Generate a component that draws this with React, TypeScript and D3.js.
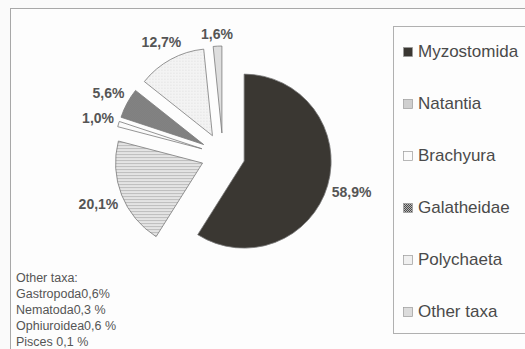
import React from "react";
import * as d3 from "d3";

const categories = ["Myzostomida", "Natantia", "Brachyura", "Galatheidae", "Polychaeta", "Other taxa"];
const values = [58.9, 20.1, 1.0, 5.6, 12.7, 1.6];
const labels = ["58,9%", "20,1%", "1,0%", "5,6%", "12,7%", "1,6%"];
const otherTaxa = ["Other taxa:", "Gastropoda0,6%", "Nematoda0,3 %", "Ophiuroidea0,6 %", "Pisces 0,1 %"];
const fills = ["#3a3732", "url(#pNat)", "#fbfbfb", "url(#pGal)", "url(#pPoly)", "#dedede"];
const swatchFills = ["#3a3732", "#cfcfcf", "#fbfbfb", "url(#pGal)", "#f0f0f0", "#dcdcdc"];

const W = 525, H = 349;
const cx = 223, cy = 155, R = 87, EXPLODE = 22, LABEL_R = 114;

export default function App() {
  const pie = d3.pie<number>().sort(null).value((d) => d);
  const arcs = pie(values);
  const arc = d3.arc<d3.PieArcDatum<number>>().innerRadius(0).outerRadius(R);

  const legendY = d3.scalePoint<string>().domain(categories).range([57, 317]);

  return (
    <svg width={W} height={H} style={{ position: "absolute", left: 0, top: 0, background: "#fafafa" }}
      fontFamily="'Liberation Sans', Arial, sans-serif">
      <defs>
        <pattern id="pNat" width="4" height="3" patternUnits="userSpaceOnUse">
          <rect width="4" height="3" fill="#e4e4e4" />
          <rect width="4" height="1" fill="#bdbdbd" />
        </pattern>
        <pattern id="pGal" width="2" height="2" patternUnits="userSpaceOnUse">
          <rect width="2" height="2" fill="#b8b8b8" />
          <rect width="1" height="1" fill="#4a4a4a" />
          <rect x="1" y="1" width="1" height="1" fill="#4a4a4a" />
        </pattern>
        <pattern id="pPoly" width="3" height="3" patternUnits="userSpaceOnUse">
          <rect width="3" height="3" fill="#f3f3f3" />
          <rect width="1" height="1" fill="#dcdcdc" />
        </pattern>
      </defs>
      <rect x={0} y={0} width={W} height={H} fill="#fafafa" />
      <rect x={10.5} y={8.5} width={W + 10} height={H + 10} fill="#fdfdfd" stroke="#a8a8a8" strokeWidth={1} />
      {arcs.map((a, i) => {
        const mid = (a.startAngle + a.endAngle) / 2;
        const dx = Math.sin(mid) * EXPLODE;
        const dy = -Math.cos(mid) * EXPLODE;
        return (
          <path key={categories[i]} d={arc(a) || ""} transform={`translate(${cx + dx},${cy + dy})`}
            fill={fills[i]} stroke="#7a7a7a" strokeWidth={0.8} />
        );
      })}
      {arcs.map((a, i) => {
        const mid = (a.startAngle + a.endAngle) / 2;
        const s = Math.sin(mid), c = Math.cos(mid);
        const tw = labels[i].length * 7.6;
        const off = (tw / 2) * Math.abs(s) + 6 * Math.abs(c);
        const rr = LABEL_R + off;
        return (
          <text key={labels[i]} x={cx + s * rr} y={cy - c * rr} dy="0.36em" textAnchor="middle"
            fontSize={14} fontWeight="bold" fill="#555">{labels[i]}</text>
        );
      })}
      <rect x={393.5} y={26.5} width={150} height={307} fill="#fdfdfd" stroke="#b0b0b0" strokeWidth={1} />
      {categories.map((c, i) => {
        const y = legendY(c) as number;
        return (
          <g key={c}>
            <rect x={403.5} y={y - 9.5} width={9} height={9} fill={swatchFills[i]} stroke="#9a9a9a" strokeWidth={0.7} />
            <text x={418} y={y} fontSize={17} fill="#4a4a4a">{c}</text>
          </g>
        );
      })}
      {otherTaxa.map((t, i) => (
        <text key={t} x={16} y={282 + i * 16} fontSize={12.5} fill="#555">{t}</text>
      ))}
    </svg>
  );
}
